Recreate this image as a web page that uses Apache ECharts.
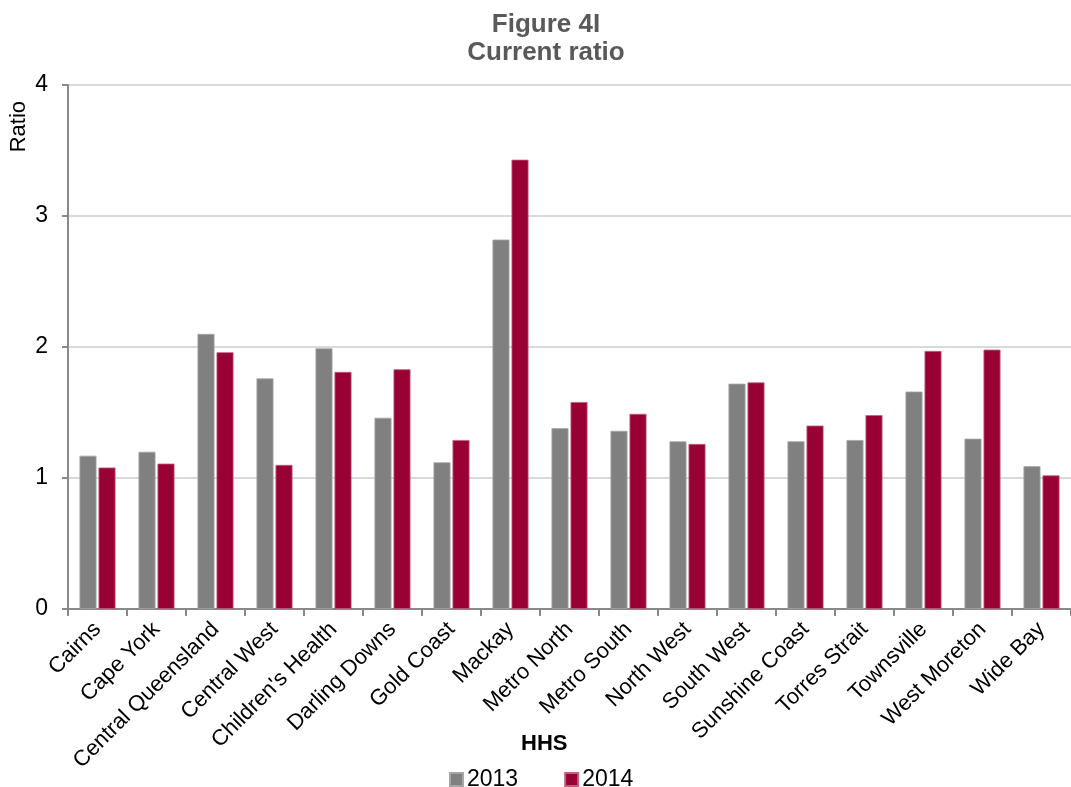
<!DOCTYPE html>
<html>
<head>
<meta charset="utf-8">
<script src="https://cdn.jsdelivr.net/npm/echarts@6/dist/echarts.min.js"></script>
<style>
  html, body { margin: 0; padding: 0; background: #ffffff; }
  #chart { width: 1071px; height: 787px; }
</style>
</head>
<body>
<div id="chart"></div>
<script>
// Hospital and Health Services (HHS)
const categories = [
  'Cairns', 'Cape York', 'Central Queensland', 'Central West', "Children's Health",
  'Darling Downs', 'Gold Coast', 'Mackay', 'Metro North', 'Metro South',
  'North West', 'South West', 'Sunshine Coast', 'Torres Strait', 'Townsville',
  'West Moreton', 'Wide Bay'
];

// Current ratio by year
const ratio2013 = [1.17, 1.20, 2.10, 1.76, 1.99, 1.46, 1.12, 2.82, 1.38, 1.36, 1.28, 1.72, 1.28, 1.29, 1.66, 1.30, 1.09];
const ratio2014 = [1.08, 1.11, 1.96, 1.10, 1.81, 1.83, 1.29, 3.43, 1.58, 1.49, 1.26, 1.73, 1.40, 1.48, 1.97, 1.98, 1.02];

const yTicks = [0, 1, 2, 3, 4];

const FONT = '"Liberation Sans", Arial, sans-serif';
const GREY = '#808080';
const MAROON = '#990033';

const chart = echarts.init(document.getElementById('chart'), null, { renderer: 'canvas' });

chart.setOption({
  animation: false,
  backgroundColor: '#ffffff',
  textStyle: { fontFamily: FONT },
  title: {
    text: 'Figure 4I\nCurrent ratio',
    left: 541,
    top: 6,
    textAlign: 'center',
    textStyle: {
      fontFamily: FONT,
      fontSize: 26,
      fontWeight: 'bold',
      color: '#595959',
      lineHeight: 28
    }
  },
  legend: {
    data: ['2013', '2014'],
    left: 444,
    top: 763,
    icon: 'rect',
    itemWidth: 13,
    itemHeight: 13,
    itemGap: 46,
    textStyle: { fontFamily: FONT, fontSize: 23, color: '#000000', padding: [0, 0, 0, -1] }
  },
  grid: {
    left: 68,
    right: -8,
    top: 85,
    bottom: 178,
    containLabel: false
  },
  xAxis: {
    type: 'category',
    data: categories,
    axisLine: { lineStyle: { color: '#898989', width: 2 } },
    axisTick: { show: true, length: 7, lineStyle: { color: '#898989', width: 2 } },
    axisLabel: {
      rotate: 45,
      interval: 0,
      margin: 17,
      fontFamily: FONT,
      fontSize: 22,
      color: '#000000'
    }
  },
  yAxis: {
    type: 'value',
    min: yTicks[0],
    max: yTicks[yTicks.length - 1],
    interval: 1,
    axisLine: { show: true, lineStyle: { color: '#898989', width: 2 } },
    axisTick: { show: true, length: 6, lineStyle: { color: '#898989', width: 2 } },
    axisLabel: {
      fontFamily: FONT,
      fontSize: 23,
      color: '#000000',
      margin: 20
    },
    splitLine: { lineStyle: { color: '#d9d9d9', width: 2 } }
  },
  graphic: [
    {
      type: 'text',
      left: 8,
      top: 101,
      rotation: Math.PI / 2,
      style: {
        text: 'Ratio',
        fontFamily: FONT,
        fontSize: 22,
        fill: '#000000'
      }
    },
    {
      type: 'text',
      left: 521,
      top: 733,
      style: {
        text: 'HHS',
        fontFamily: FONT,
        fontSize: 22,
        fontWeight: 'bold',
        fill: '#000000'
      }
    }
  ],
  series: [
    {
      name: '2013',
      type: 'bar',
      data: ratio2013,
      barWidth: 17,
      barGap: '12%',
      itemStyle: { color: GREY, borderColor: '#a6a6a6', borderWidth: 0.8 }
    },
    {
      name: '2014',
      type: 'bar',
      data: ratio2014,
      barWidth: 17,
      itemStyle: { color: MAROON, borderColor: '#c0607f', borderWidth: 0.8 }
    }
  ]
});
</script>
</body>
</html>
